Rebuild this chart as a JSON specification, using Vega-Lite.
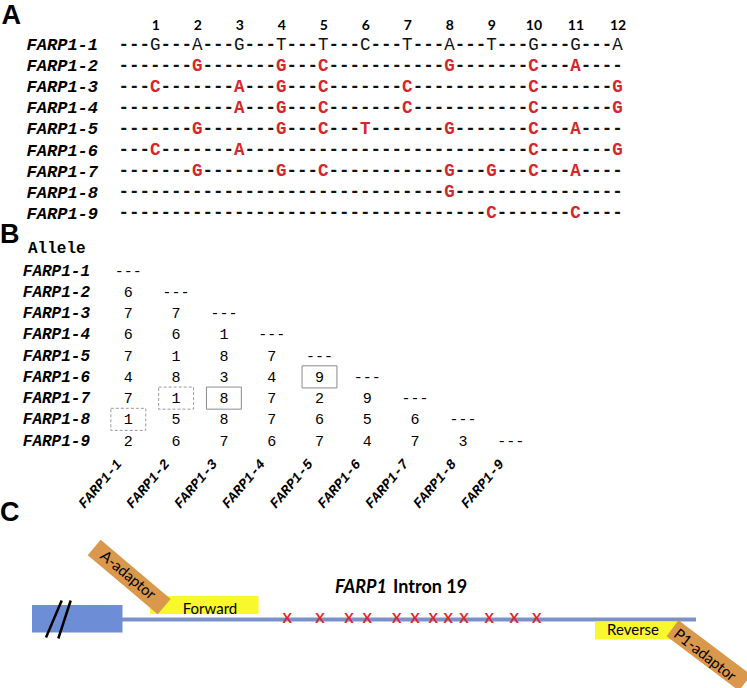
{
  "$schema": "https://vega.github.io/schema/vega-lite/v6.json",
  "width": 747,
  "height": 688,
  "autosize": {"type": "fit", "contains": "padding"},
  "padding": 0,
  "config": {
    "view": {"stroke": null},
    "axis": {"grid": false, "domain": false, "ticks": false, "tickSize": 0, "minExtent": 0, "maxExtent": 600, "labelColor": "#000", "labelOverlap": false, "labelFlush": false}
  },
  "datasets": {
    "seq": [
      {"allele":"FARP1-1","site":1,"base":"G"},{"allele":"FARP1-1","site":2,"base":"A"},{"allele":"FARP1-1","site":3,"base":"G"},{"allele":"FARP1-1","site":4,"base":"T"},{"allele":"FARP1-1","site":5,"base":"T"},{"allele":"FARP1-1","site":6,"base":"C"},{"allele":"FARP1-1","site":7,"base":"T"},{"allele":"FARP1-1","site":8,"base":"A"},{"allele":"FARP1-1","site":9,"base":"T"},{"allele":"FARP1-1","site":10,"base":"G"},{"allele":"FARP1-1","site":11,"base":"G"},{"allele":"FARP1-1","site":12,"base":"A"},
      {"allele":"FARP1-2","site":1,"base":"-"},{"allele":"FARP1-2","site":2,"base":"G"},{"allele":"FARP1-2","site":3,"base":"-"},{"allele":"FARP1-2","site":4,"base":"G"},{"allele":"FARP1-2","site":5,"base":"C"},{"allele":"FARP1-2","site":6,"base":"-"},{"allele":"FARP1-2","site":7,"base":"-"},{"allele":"FARP1-2","site":8,"base":"G"},{"allele":"FARP1-2","site":9,"base":"-"},{"allele":"FARP1-2","site":10,"base":"C"},{"allele":"FARP1-2","site":11,"base":"A"},{"allele":"FARP1-2","site":12,"base":"-"},
      {"allele":"FARP1-3","site":1,"base":"C"},{"allele":"FARP1-3","site":2,"base":"-"},{"allele":"FARP1-3","site":3,"base":"A"},{"allele":"FARP1-3","site":4,"base":"G"},{"allele":"FARP1-3","site":5,"base":"C"},{"allele":"FARP1-3","site":6,"base":"-"},{"allele":"FARP1-3","site":7,"base":"C"},{"allele":"FARP1-3","site":8,"base":"-"},{"allele":"FARP1-3","site":9,"base":"-"},{"allele":"FARP1-3","site":10,"base":"C"},{"allele":"FARP1-3","site":11,"base":"-"},{"allele":"FARP1-3","site":12,"base":"G"},
      {"allele":"FARP1-4","site":1,"base":"-"},{"allele":"FARP1-4","site":2,"base":"-"},{"allele":"FARP1-4","site":3,"base":"A"},{"allele":"FARP1-4","site":4,"base":"G"},{"allele":"FARP1-4","site":5,"base":"C"},{"allele":"FARP1-4","site":6,"base":"-"},{"allele":"FARP1-4","site":7,"base":"C"},{"allele":"FARP1-4","site":8,"base":"-"},{"allele":"FARP1-4","site":9,"base":"-"},{"allele":"FARP1-4","site":10,"base":"C"},{"allele":"FARP1-4","site":11,"base":"-"},{"allele":"FARP1-4","site":12,"base":"G"},
      {"allele":"FARP1-5","site":1,"base":"-"},{"allele":"FARP1-5","site":2,"base":"G"},{"allele":"FARP1-5","site":3,"base":"-"},{"allele":"FARP1-5","site":4,"base":"G"},{"allele":"FARP1-5","site":5,"base":"C"},{"allele":"FARP1-5","site":6,"base":"T"},{"allele":"FARP1-5","site":7,"base":"-"},{"allele":"FARP1-5","site":8,"base":"G"},{"allele":"FARP1-5","site":9,"base":"-"},{"allele":"FARP1-5","site":10,"base":"C"},{"allele":"FARP1-5","site":11,"base":"A"},{"allele":"FARP1-5","site":12,"base":"-"},
      {"allele":"FARP1-6","site":1,"base":"C"},{"allele":"FARP1-6","site":2,"base":"-"},{"allele":"FARP1-6","site":3,"base":"A"},{"allele":"FARP1-6","site":4,"base":"-"},{"allele":"FARP1-6","site":5,"base":"-"},{"allele":"FARP1-6","site":6,"base":"-"},{"allele":"FARP1-6","site":7,"base":"-"},{"allele":"FARP1-6","site":8,"base":"-"},{"allele":"FARP1-6","site":9,"base":"-"},{"allele":"FARP1-6","site":10,"base":"C"},{"allele":"FARP1-6","site":11,"base":"-"},{"allele":"FARP1-6","site":12,"base":"G"},
      {"allele":"FARP1-7","site":1,"base":"-"},{"allele":"FARP1-7","site":2,"base":"G"},{"allele":"FARP1-7","site":3,"base":"-"},{"allele":"FARP1-7","site":4,"base":"G"},{"allele":"FARP1-7","site":5,"base":"C"},{"allele":"FARP1-7","site":6,"base":"-"},{"allele":"FARP1-7","site":7,"base":"-"},{"allele":"FARP1-7","site":8,"base":"G"},{"allele":"FARP1-7","site":9,"base":"G"},{"allele":"FARP1-7","site":10,"base":"C"},{"allele":"FARP1-7","site":11,"base":"A"},{"allele":"FARP1-7","site":12,"base":"-"},
      {"allele":"FARP1-8","site":1,"base":"-"},{"allele":"FARP1-8","site":2,"base":"-"},{"allele":"FARP1-8","site":3,"base":"-"},{"allele":"FARP1-8","site":4,"base":"-"},{"allele":"FARP1-8","site":5,"base":"-"},{"allele":"FARP1-8","site":6,"base":"-"},{"allele":"FARP1-8","site":7,"base":"-"},{"allele":"FARP1-8","site":8,"base":"G"},{"allele":"FARP1-8","site":9,"base":"-"},{"allele":"FARP1-8","site":10,"base":"-"},{"allele":"FARP1-8","site":11,"base":"-"},{"allele":"FARP1-8","site":12,"base":"-"},
      {"allele":"FARP1-9","site":1,"base":"-"},{"allele":"FARP1-9","site":2,"base":"-"},{"allele":"FARP1-9","site":3,"base":"-"},{"allele":"FARP1-9","site":4,"base":"-"},{"allele":"FARP1-9","site":5,"base":"-"},{"allele":"FARP1-9","site":6,"base":"-"},{"allele":"FARP1-9","site":7,"base":"-"},{"allele":"FARP1-9","site":8,"base":"-"},{"allele":"FARP1-9","site":9,"base":"C"},{"allele":"FARP1-9","site":10,"base":"-"},{"allele":"FARP1-9","site":11,"base":"C"},{"allele":"FARP1-9","site":12,"base":"-"}
    ],
    "dist": [
      {"row":"FARP1-1","col":"FARP1-1","d":"---"},
      {"row":"FARP1-2","col":"FARP1-1","d":"6"},{"row":"FARP1-2","col":"FARP1-2","d":"---"},
      {"row":"FARP1-3","col":"FARP1-1","d":"7"},{"row":"FARP1-3","col":"FARP1-2","d":"7"},{"row":"FARP1-3","col":"FARP1-3","d":"---"},
      {"row":"FARP1-4","col":"FARP1-1","d":"6"},{"row":"FARP1-4","col":"FARP1-2","d":"6"},{"row":"FARP1-4","col":"FARP1-3","d":"1"},{"row":"FARP1-4","col":"FARP1-4","d":"---"},
      {"row":"FARP1-5","col":"FARP1-1","d":"7"},{"row":"FARP1-5","col":"FARP1-2","d":"1"},{"row":"FARP1-5","col":"FARP1-3","d":"8"},{"row":"FARP1-5","col":"FARP1-4","d":"7"},{"row":"FARP1-5","col":"FARP1-5","d":"---"},
      {"row":"FARP1-6","col":"FARP1-1","d":"4"},{"row":"FARP1-6","col":"FARP1-2","d":"8"},{"row":"FARP1-6","col":"FARP1-3","d":"3"},{"row":"FARP1-6","col":"FARP1-4","d":"4"},{"row":"FARP1-6","col":"FARP1-5","d":"9"},{"row":"FARP1-6","col":"FARP1-6","d":"---"},
      {"row":"FARP1-7","col":"FARP1-1","d":"7"},{"row":"FARP1-7","col":"FARP1-2","d":"1"},{"row":"FARP1-7","col":"FARP1-3","d":"8"},{"row":"FARP1-7","col":"FARP1-4","d":"7"},{"row":"FARP1-7","col":"FARP1-5","d":"2"},{"row":"FARP1-7","col":"FARP1-6","d":"9"},{"row":"FARP1-7","col":"FARP1-7","d":"---"},
      {"row":"FARP1-8","col":"FARP1-1","d":"1"},{"row":"FARP1-8","col":"FARP1-2","d":"5"},{"row":"FARP1-8","col":"FARP1-3","d":"8"},{"row":"FARP1-8","col":"FARP1-4","d":"7"},{"row":"FARP1-8","col":"FARP1-5","d":"6"},{"row":"FARP1-8","col":"FARP1-6","d":"5"},{"row":"FARP1-8","col":"FARP1-7","d":"6"},{"row":"FARP1-8","col":"FARP1-8","d":"---"},
      {"row":"FARP1-9","col":"FARP1-1","d":"2"},{"row":"FARP1-9","col":"FARP1-2","d":"6"},{"row":"FARP1-9","col":"FARP1-3","d":"7"},{"row":"FARP1-9","col":"FARP1-4","d":"6"},{"row":"FARP1-9","col":"FARP1-5","d":"7"},{"row":"FARP1-9","col":"FARP1-6","d":"4"},{"row":"FARP1-9","col":"FARP1-7","d":"7"},{"row":"FARP1-9","col":"FARP1-8","d":"3"},{"row":"FARP1-9","col":"FARP1-9","d":"---"}
    ],
    "boxes": [
      {"row":"FARP1-6","col":"FARP1-5","kind":"solid"},
      {"row":"FARP1-7","col":"FARP1-3","kind":"solid"},
      {"row":"FARP1-7","col":"FARP1-2","kind":"dashed"},
      {"row":"FARP1-8","col":"FARP1-1","kind":"dashed"}
    ],
    "regions": [
      {"feature":"exon","start":32,"end":122.5,"upper":605,"lower":632.5},
      {"feature":"Forward","start":150,"end":258.5,"upper":596,"lower":614},
      {"feature":"Reverse","start":595,"end":677,"upper":621.5,"lower":639.5}
    ],
    "intron": [{"start":122,"end":696,"track":619.5}],
    "breaks": [
      {"start":61.7,"upper":600.5,"end":46,"lower":637.5},
      {"start":70.7,"upper":600.5,"end":58.3,"lower":638.5}
    ],
    "snps": [
      {"site":1,"pos":287.3,"track":619},{"site":2,"pos":320,"track":619},{"site":3,"pos":349,"track":619},{"site":4,"pos":367.3,"track":619},
      {"site":5,"pos":396.7,"track":619},{"site":6,"pos":415,"track":619},{"site":7,"pos":433.3,"track":619},{"site":8,"pos":448.3,"track":619},
      {"site":9,"pos":464,"track":619},{"site":10,"pos":489.3,"track":619},{"site":11,"pos":514.3,"track":619},{"site":12,"pos":536.7,"track":619}
    ],
    "adaptors": [
      {"name":"A-adaptor","start":94.2,"upper":547.5,"end":164.2,"lower":606.7},
      {"name":"P1-adaptor","start":672.5,"upper":628.3,"end":745,"lower":682.8}
    ],
    "notes": [
      {"label":"A","kind":"panel","h":1.5,"v":24},
      {"label":"B","kind":"panel","h":0,"v":243},
      {"label":"C","kind":"panel","h":0,"v":521},
      {"label":"Allele","kind":"heading","h":28,"v":248},
      {"label":"FARP1","kind":"gene","h":387,"v":593},
      {"label":"Intron 19","kind":"intron","h":393,"v":593},
      {"label":"Forward","kind":"primer","h":210,"v":608.5},
      {"label":"Reverse","kind":"primer","h":633,"v":630},
      {"label":"A-adaptor","kind":"adA","h":128,"v":575},
      {"label":"P1-adaptor","kind":"adP","h":705,"v":655}
    ]
  },
  "layer": [
    {
      "data": {"name": "seq"},
      "encoding": {
        "x": {"field": "site", "type": "quantitative",
          "scale": {"domain": [1, 12], "range": [155.2, 617.5], "nice": false, "zero": false},
          "axis": {"orient": "top", "offset": -25.7, "values": [1,2,3,4,5,6,7,8,9,10,11,12], "format": "d", "labelPadding": 0, "labelBaseline": "middle", "labelFont": "Lato", "labelFontWeight": "bold", "labelFontSize": 14, "title": null}},
        "y": {"field": "allele", "type": "nominal",
          "scale": {"type": "point", "domain": ["FARP1-1","FARP1-2","FARP1-3","FARP1-4","FARP1-5","FARP1-6","FARP1-7","FARP1-8","FARP1-9"], "range": [44.5, 213.3], "padding": 0},
          "axis": {"orient": "left", "offset": -97.5, "labelPadding": 0, "labelFont": "Liberation Mono", "labelFontWeight": "bold", "labelFontStyle": "italic", "labelFontSize": 17, "title": null}}
      },
      "layer": [
        {"mark": {"type": "text", "text": "---", "dx": -21, "font": "Liberation Mono", "fontWeight": "bold", "fontSize": 17.5, "baseline": "middle", "align": "center", "color": "#111"}},
        {"transform": [{"filter": "datum.base === '-'"}],
         "mark": {"type": "text", "font": "Liberation Mono", "fontWeight": "bold", "fontSize": 17.5, "baseline": "middle", "align": "center", "color": "#111"},
         "encoding": {"text": {"field": "base"}}},
        {"transform": [{"filter": "datum.base !== '-' && datum.allele !== 'FARP1-1'"}],
         "mark": {"type": "text", "font": "Liberation Mono", "fontWeight": "bold", "fontSize": 17.5, "baseline": "middle", "align": "center", "color": "#d7262b"},
         "encoding": {"text": {"field": "base"}}},
        {"transform": [{"filter": "datum.allele === 'FARP1-1'"}],
         "mark": {"type": "text", "font": "Liberation Mono", "fontWeight": "normal", "fontSize": 17.5, "baseline": "middle", "align": "center", "color": "#111"},
         "encoding": {"text": {"field": "base"}}}
      ]
    },
    {
      "data": {"name": "dist"},
      "encoding": {
        "x": {"field": "col", "type": "nominal",
          "scale": {"type": "band", "domain": ["FARP1-1","FARP1-2","FARP1-3","FARP1-4","FARP1-5","FARP1-6","FARP1-7","FARP1-8","FARP1-9"], "range": [104.4, 534.6], "paddingInner": 0, "paddingOuter": 0},
          "axis": {"orient": "bottom", "offset": -227, "labelAngle": -50, "labelAlign": "right", "labelBaseline": "middle", "labelPadding": 0, "labelOffset": -9, "labelFont": "Liberation Mono", "labelFontWeight": "bold", "labelFontStyle": "italic", "labelFontSize": 14, "title": null}},
        "y": {"field": "row", "type": "nominal",
          "scale": {"type": "band", "domain": ["FARP1-1","FARP1-2","FARP1-3","FARP1-4","FARP1-5","FARP1-6","FARP1-7","FARP1-8","FARP1-9"], "range": [260.1, 451.2], "paddingInner": 0, "paddingOuter": 0},
          "axis": {"orient": "left", "offset": -89.5, "labelPadding": 0, "labelFont": "Liberation Mono", "labelFontWeight": "bold", "labelFontStyle": "italic", "labelFontSize": 16, "title": null}}
      },
      "layer": [
        {"mark": {"type": "text", "font": "Liberation Mono", "fontSize": 15, "baseline": "middle", "align": "center", "color": "#000"},
         "encoding": {"text": {"field": "d"}}},
        {"data": {"name": "boxes"}, "transform": [{"filter": "datum.kind === 'solid'"}],
         "mark": {"type": "rect", "filled": false, "color": "#8a8a8a", "strokeWidth": 1, "width": {"band": 0.73}, "height": {"band": 1.04}}},
        {"data": {"name": "boxes"}, "transform": [{"filter": "datum.kind === 'dashed'"}],
         "mark": {"type": "rect", "filled": false, "color": "#9a9a9a", "strokeWidth": 1, "strokeDash": [3, 2], "width": {"band": 0.73}, "height": {"band": 1.04}}}
      ]
    },
    {
      "layer": [
        {"data": {"name": "intron"},
         "mark": {"type": "rule", "color": "#7d91c9", "strokeWidth": 4},
         "encoding": {
           "x": {"field": "start", "type": "quantitative", "scale": {"domain": [0, 747], "range": [0, 747], "nice": false, "zero": false}, "axis": null},
           "x2": {"field": "end"},
           "y": {"field": "track", "type": "quantitative", "scale": {"domain": [0, 688], "range": [0, 688], "nice": false, "zero": false}, "axis": null}}},
        {"data": {"name": "regions"},
         "mark": {"type": "rect"},
         "encoding": {
           "x": {"field": "start", "type": "quantitative", "scale": {"domain": [0, 747], "range": [0, 747], "nice": false, "zero": false}, "axis": null},
           "x2": {"field": "end"},
           "y": {"field": "upper", "type": "quantitative", "scale": {"domain": [0, 688], "range": [0, 688], "nice": false, "zero": false}, "axis": null},
           "y2": {"field": "lower"},
           "color": {"field": "feature", "type": "nominal", "scale": {"domain": ["exon", "Forward", "Reverse"], "range": ["#6d8dd6", "#f8f82c", "#f8f82c"]}, "legend": null}}},
        {"data": {"name": "breaks"},
         "mark": {"type": "rule", "color": "#000", "strokeWidth": 2.5},
         "encoding": {
           "x": {"field": "start", "type": "quantitative", "axis": null},
           "x2": {"field": "end"},
           "y": {"field": "upper", "type": "quantitative", "axis": null},
           "y2": {"field": "lower"}}},
        {"data": {"name": "adaptors"},
         "mark": {"type": "rule", "color": "#d9984c", "strokeWidth": 20, "strokeCap": "butt", "clip": true},
         "encoding": {
           "x": {"field": "start", "type": "quantitative", "axis": null},
           "x2": {"field": "end"},
           "y": {"field": "upper", "type": "quantitative", "axis": null},
           "y2": {"field": "lower"}}},
        {"data": {"name": "snps"},
         "mark": {"type": "text", "text": "X", "font": "Lato", "fontSize": 14, "fontWeight": "bold", "color": "#e0242a", "baseline": "middle", "align": "center"},
         "encoding": {
           "x": {"field": "pos", "type": "quantitative", "axis": null},
           "y": {"field": "track", "type": "quantitative", "axis": null}}},
        {"data": {"name": "notes"},
         "encoding": {
           "x": {"field": "h", "type": "quantitative", "axis": null},
           "y": {"field": "v", "type": "quantitative", "axis": null},
           "text": {"field": "label"}},
         "layer": [
           {"transform": [{"filter": "datum.kind === 'panel'"}],
            "mark": {"type": "text", "font": "Liberation Sans", "fontWeight": "bold", "fontSize": 27, "align": "left", "baseline": "alphabetic", "color": "#000"}},
           {"transform": [{"filter": "datum.kind === 'heading'"}],
            "mark": {"type": "text", "font": "Liberation Mono", "fontWeight": "bold", "fontSize": 16, "align": "left", "baseline": "middle", "color": "#000"}},
           {"transform": [{"filter": "datum.kind === 'gene'"}],
            "mark": {"type": "text", "font": "Lato", "fontWeight": "bold", "fontStyle": "italic", "fontSize": 18, "align": "right", "baseline": "alphabetic", "color": "#000"}},
           {"transform": [{"filter": "datum.kind === 'intron'"}],
            "mark": {"type": "text", "font": "Lato", "fontWeight": "bold", "fontSize": 18, "align": "left", "baseline": "alphabetic", "color": "#000"}},
           {"transform": [{"filter": "datum.kind === 'primer'"}],
            "mark": {"type": "text", "font": "Lato", "fontSize": 15, "align": "center", "baseline": "middle", "color": "#000"}},
           {"transform": [{"filter": "datum.kind === 'adA'"}],
            "mark": {"type": "text", "font": "Lato", "fontSize": 15, "angle": 40, "align": "center", "baseline": "middle", "color": "#000"}},
           {"transform": [{"filter": "datum.kind === 'adP'"}],
            "mark": {"type": "text", "font": "Lato", "fontSize": 15, "angle": 38, "align": "center", "baseline": "middle", "color": "#000"}}
         ]}
      ]
    }
  ],
  "resolve": {"scale": {"x": "independent", "y": "independent"}, "axis": {"x": "independent", "y": "independent"}}
}
